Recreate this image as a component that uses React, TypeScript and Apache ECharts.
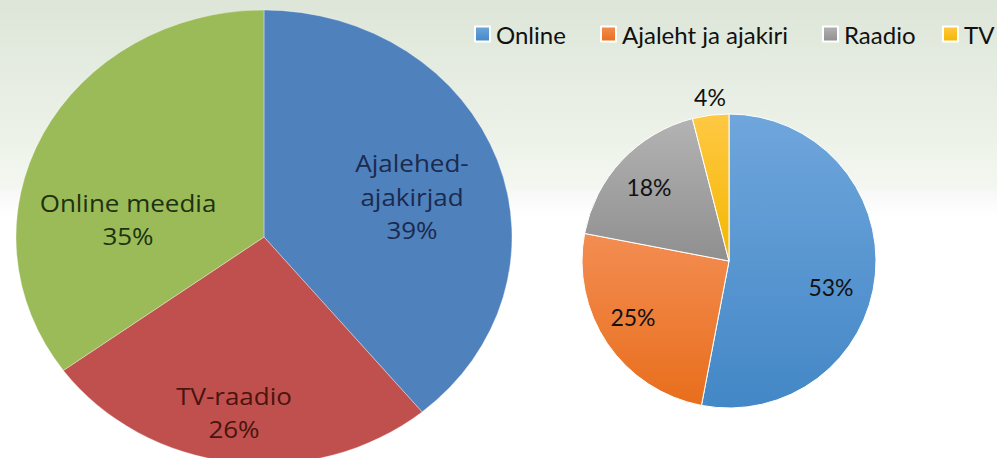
import React, { useEffect, useRef } from "react";
import * as echarts from "echarts";

// Left pie (media split)
const leftCategories = ["Ajalehed-\najakirjad", "TV-raadio", "Online meedia"];
const leftValues = [39, 26, 35];
const leftColors = ["#4f81bd", "#c0504d", "#9bbb59"];
const leftTextColors = ["#1b2a4e", "#4a1410", "#1c3210"];

// Right pie (ad spend)
const rightCategories = ["Online", "Ajaleht ja ajakiri", "Raadio", "TV"];
const rightValues = [53, 25, 18, 4];
const rightTop = ["#6fa6dc", "#f38d52", "#b3b3b3", "#ffc844"];
const rightBottom = ["#4387c6", "#e86e1c", "#8f8f8f", "#f4b700"];

const SY = 227 / 248; // vertical squash of the left picture

const grad = (a: string, b: string) =>
  new echarts.graphic.LinearGradient(0, 0, 0, 1, [
    { offset: 0, color: a },
    { offset: 1, color: b },
  ]);

export default function App() {
  const leftRef = useRef<HTMLDivElement>(null);
  const rightRef = useRef<HTMLDivElement>(null);

  useEffect(() => {
    const lc = echarts.init(leftRef.current!, null, { renderer: "svg" });
    const rc = echarts.init(rightRef.current!, null, { renderer: "svg" });

    // label centers in screen pixels
    const leftLabelPos = [
      [412, 196],
      [234, 412],
      [128, 219],
    ];
    lc.setOption({
      animation: false,
      series: [
        {
          type: "pie",
          center: [264, 237 / SY],
          radius: 248,
          startAngle: 90,
          clockwise: true,
          silent: true,
          itemStyle: { borderColor: "rgba(255,255,255,0.35)", borderWidth: 1 },
          label: {
            show: true,
            position: "inside",
            formatter: (p: any) => `${p.name}\n${p.value}%`,
            fontFamily: "Open Sans",
            fontWeight: 500,
            fontSize: 26,
            lineHeight: 37,
            align: "center",
          },
          labelLayout: (p: any) => ({
            x: leftLabelPos[p.dataIndex][0],
            y: leftLabelPos[p.dataIndex][1] / SY,
            align: "center",
            verticalAlign: "middle",
          }),
          labelLine: { show: false },
          data: leftCategories.map((n, i) => ({
            name: n,
            value: leftValues[i],
            itemStyle: { color: leftColors[i] },
            label: { color: leftTextColors[i] },
          })),
        },
      ],
    });

    const rightLabelPos = [
      [831, 287],
      [633, 317],
      [649, 187],
      [710, 97],
    ];
    const legendLeft = [474, 600, 822, 942];
    rc.setOption({
      animation: false,
      legend: rightCategories.map((n, i) => ({
        data: [n],
        left: legendLeft[i],
        top: 22,
        padding: 0,
        icon: "rect",
        itemWidth: 15,
        itemHeight: 15,
        selectedMode: false,
        textStyle: { fontFamily: "Lato", fontSize: 24, color: "#111111", padding: [0, 0, 0, 1] },
      })),
      series: [
        {
          type: "pie",
          center: [729, 261],
          radius: 147,
          startAngle: 90,
          clockwise: true,
          silent: true,
          itemStyle: { borderColor: "#ffffff", borderWidth: 1 },
          label: {
            show: true,
            formatter: (p: any) => `${p.value}%`,
            fontFamily: "Lato",
            fontSize: 23,
            color: "#111111",
          },
          labelLayout: (p: any) => ({
            x: rightLabelPos[p.dataIndex][0],
            y: rightLabelPos[p.dataIndex][1],
            align: "center",
            verticalAlign: "middle",
          }),
          labelLine: { show: false },
          data: rightCategories.map((n, i) => ({
            name: n,
            value: rightValues[i],
            itemStyle: { color: grad(rightTop[i], rightBottom[i]) },
          })),
        },
      ],
    });

    return () => {
      lc.dispose();
      rc.dispose();
    };
  }, []);

  return (
    <div
      style={{
        position: "fixed",
        left: 0,
        top: 0,
        width: 997,
        height: 458,
        overflow: "hidden",
        background:
          "linear-gradient(to bottom, #dde5d8 0%, #eaf0e6 25%, #f3f7f0 41%, #f8f8f8 42%, #fcfcfc 45%, #ffffff 47%, #ffffff 100%)",
      }}
    >
      <div
        ref={leftRef}
        style={{
          position: "absolute",
          left: 0,
          top: 0,
          width: 997,
          height: Math.ceil(458 / SY) + 30,
          transform: `scaleY(${SY})`,
          transformOrigin: "0 0",
        }}
      />
      <div
        ref={rightRef}
        style={{ position: "absolute", left: 0, top: 0, width: 997, height: 458 }}
      />
    </div>
  );
}
